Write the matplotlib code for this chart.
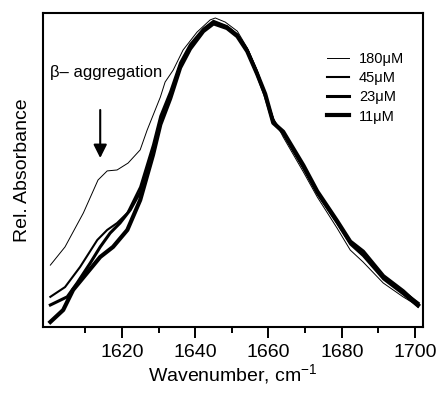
import matplotlib
matplotlib.use("Agg")
import matplotlib.pyplot as plt

# FTIR amide I band, normalised, four concentrations
wn_180 = [1600.5, 1604.5, 1609.5, 1613.5, 1616.0, 1618.7, 1621.7, 1625.0, 1626.9, 1630.5,
          1631.8, 1634.0, 1636.7, 1640.5, 1644.1, 1645.5, 1648.2, 1651.5, 1654.2, 1656.9,
          1661.3, 1664.0, 1669.5, 1673.3, 1678.7, 1682.3, 1685.8, 1691.3, 1696.7, 1700.8]
abs_180 = [0.197, 0.255, 0.363, 0.468, 0.497, 0.500, 0.522, 0.564, 0.627, 0.732,
           0.780, 0.818, 0.882, 0.939, 0.978, 0.984, 0.971, 0.942, 0.889, 0.818,
           0.666, 0.605, 0.494, 0.414, 0.315, 0.245, 0.207, 0.140, 0.096, 0.067]

wn_45 = [1600.5, 1604.5, 1608.6, 1613.3, 1616.0, 1618.7, 1621.5, 1625.0, 1628.5, 1630.5,
         1633.2, 1635.9, 1638.6, 1642.2, 1645.0, 1648.7, 1651.5, 1654.2, 1656.9, 1659.1,
         1661.3, 1664.0, 1669.5, 1673.3, 1678.7, 1682.3, 1685.8, 1691.3, 1696.7, 1700.8]
abs_45 = [0.096, 0.127, 0.191, 0.277, 0.309, 0.331, 0.363, 0.446, 0.580, 0.672,
          0.750, 0.842, 0.900, 0.950, 0.975, 0.958, 0.932, 0.885, 0.812, 0.740,
          0.660, 0.615, 0.505, 0.424, 0.330, 0.263, 0.226, 0.152, 0.104, 0.064]

wn_23 = [1600.5, 1605.1, 1607.8, 1611.4, 1614.1, 1616.8, 1619.5, 1622.3, 1625.0, 1628.5,
         1630.5, 1633.2, 1635.9, 1638.6, 1642.2, 1645.0, 1648.7, 1651.5, 1654.2, 1656.9,
         1659.1, 1661.3, 1664.0, 1669.5, 1673.3, 1678.7, 1682.3, 1685.8, 1691.3, 1696.7,
         1700.8]
abs_23 = [0.070, 0.096, 0.140, 0.204, 0.255, 0.299, 0.331, 0.373, 0.430, 0.560,
          0.655, 0.736, 0.830, 0.888, 0.944, 0.970, 0.955, 0.928, 0.880, 0.806,
          0.736, 0.652, 0.618, 0.512, 0.430, 0.336, 0.270, 0.232, 0.160, 0.112,
          0.076]

wn_11 = [1600.5, 1604.0, 1606.7, 1610.5, 1614.1, 1617.6, 1621.5, 1625.0, 1628.5, 1630.5,
         1633.2, 1635.9, 1638.6, 1642.2, 1645.0, 1648.7, 1651.5, 1654.2, 1656.9, 1659.1,
         1661.3, 1664.0, 1669.5, 1673.3, 1678.7, 1682.3, 1685.8, 1691.3, 1696.7, 1700.8]
abs_11 = [0.016, 0.054, 0.118, 0.172, 0.223, 0.255, 0.309, 0.404, 0.548, 0.645,
          0.728, 0.826, 0.886, 0.942, 0.967, 0.952, 0.926, 0.878, 0.806, 0.742,
          0.650, 0.622, 0.515, 0.432, 0.338, 0.272, 0.240, 0.162, 0.114, 0.070]

labels = ["180\u03bcM", "45\u03bcM", "23\u03bcM", "11\u03bcM"]
widths = [0.7, 1.5, 2.2, 3.0]

plt.rcParams["font.family"] = ["Liberation Sans", "DejaVu Sans"]
plt.rcParams["mathtext.fontset"] = "custom"
plt.rcParams["mathtext.rm"] = "Liberation Sans"
plt.rcParams["mathtext.it"] = "Liberation Sans:italic"

fig = plt.figure(figsize=(4.39, 3.93), dpi=100)
ax = fig.add_axes([0.098, 0.168, 0.866, 0.799])

series = [(wn_180, abs_180), (wn_45, abs_45), (wn_23, abs_23), (wn_11, abs_11)]
for (x, y), lab, lw in zip(series, labels, widths):
    ax.plot(x, y, color="black", lw=lw, label=lab, solid_joinstyle="round")

ax.set_xlim(1598.5, 1702.2)
ax.set_ylim(0, 1)
ax.set_xticks([1620, 1640, 1660, 1680, 1700])
ax.set_xticks([1610, 1630, 1650, 1670, 1690], minor=True)
ax.set_yticks([])
ax.tick_params(axis="x", which="major", direction="out", length=8, width=1.4,
               labelsize=14, pad=4)
ax.tick_params(axis="x", which="minor", direction="out", length=4, width=1.4)
for sp in ax.spines.values():
    sp.set_linewidth(1.5)

ax.set_xlabel("Wavenumber, cm$^{-1}$", fontsize=14, labelpad=1)
ax.set_ylabel("Rel. Absorbance", fontsize=14, labelpad=9)

# annotation for the aggregation shoulder
ax.text(1600.5, 0.809, "\u03b2\u2013 aggregation", fontsize=12, va="center", ha="left")
ax.annotate("", xy=(1614.1, 0.538), xytext=(1614.1, 0.691),
            arrowprops=dict(arrowstyle="-|>", color="black", lw=1.5,
                            mutation_scale=20, shrinkA=0, shrinkB=0))

ax.legend(loc="upper left", bbox_to_anchor=(0.747, 0.875), frameon=False,
          fontsize=10.5, handlelength=1.5, handletextpad=0.7, labelspacing=0.35,
          borderpad=0, borderaxespad=0)

fig.savefig("out.png", dpi=100)
